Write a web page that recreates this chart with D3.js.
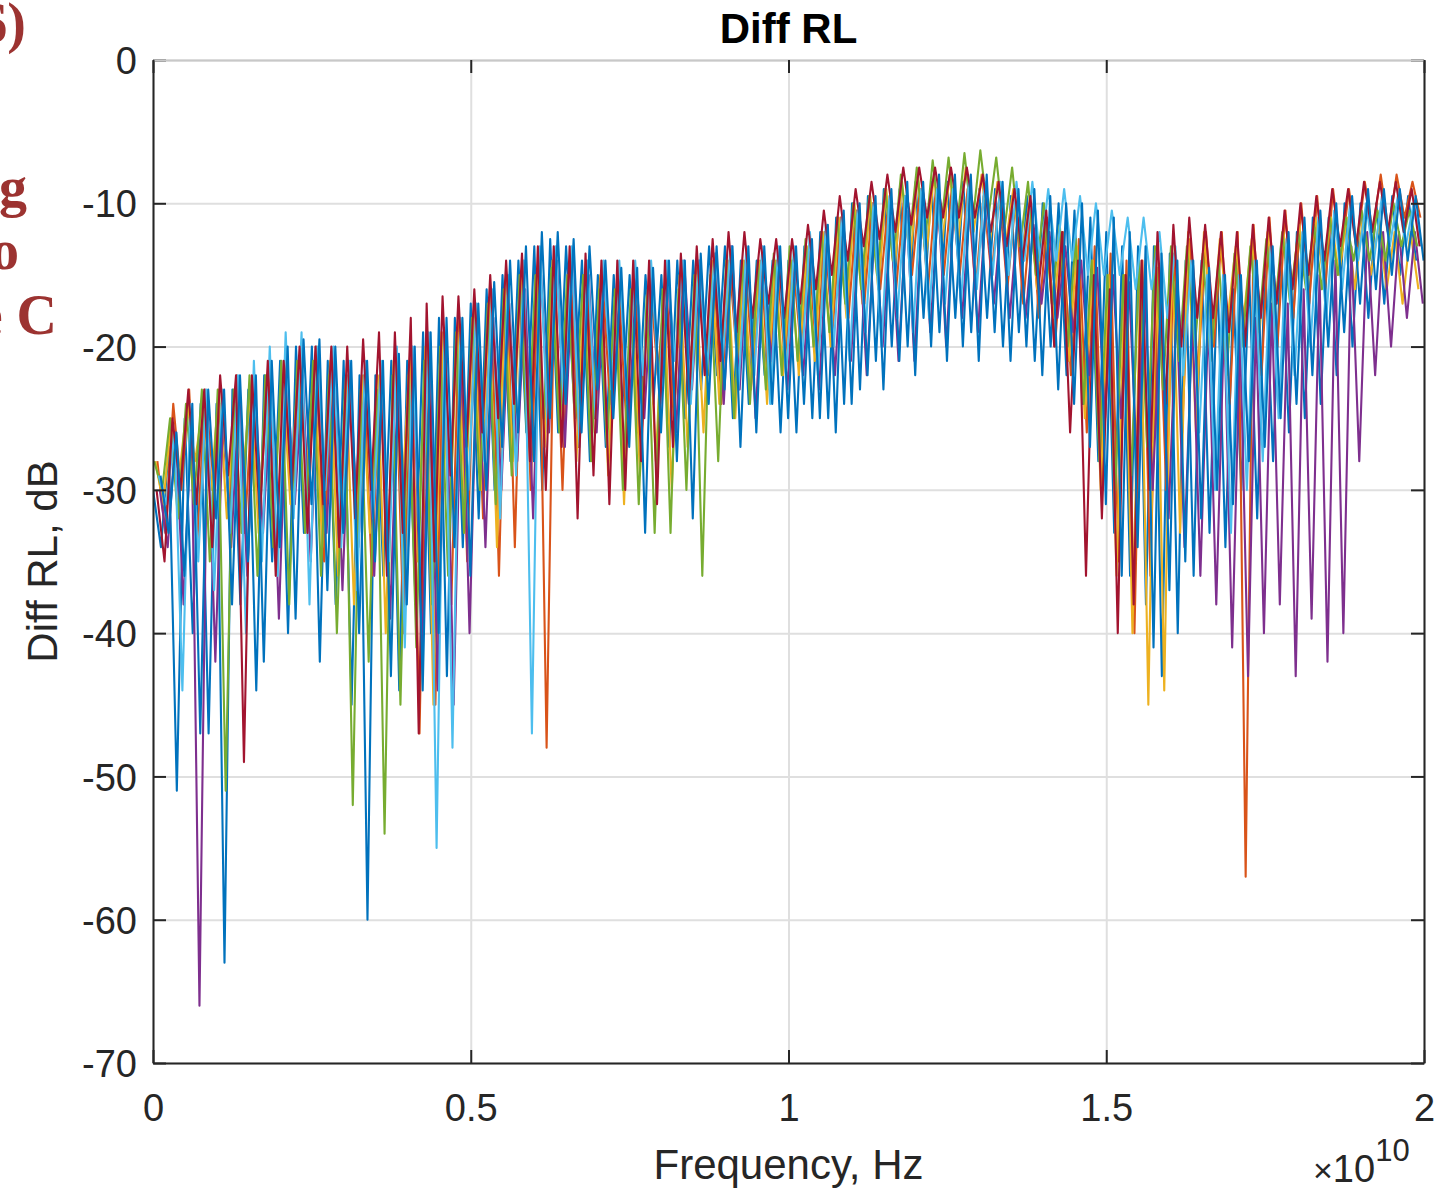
<!DOCTYPE html>
<html>
<head>
<meta charset="utf-8">
<script src="https://cdn.jsdelivr.net/npm/d3@7"></script>
<style>
  body { margin: 0; background: #fff; }
  svg { display: block; font-family: 'Liberation Sans', Arial, sans-serif; }
</style>
</head>
<body>
<div id="chart"></div>
<script>
// Diff RL sweep: 8 traces, each stored as one peak + one dip per ripple cycle (dB)
const cycleStep = 0.025e10;            // Hz between successive ripple peaks
const xTicks = [0, 0.5e10, 1e10, 1.5e10, 2e10];
const yTicks = [0, -10, -20, -30, -40, -50, -60, -70];
const traceColors = ['#0072BD', '#D95319', '#EDB120', '#7E2F8E', '#77AC30', '#4DBEEE', '#A2142F', '#0072BD'];
const tracePhase = [0, 0.55, 0.3, 0.85, 0.15, 0.7, 0.45, 0.95]; // fraction of half a cycle

const blueAPeaks = [
  -30,-27,-25,-24,-24,-23,-23,-22,-21,-20,
  -20,-21,-21,-22,-22,-21,-21,-19,-18,-18,
  -17,-16,-15,-14,-13,-12.5,-13,-14,-15,-15,
  -15,-15,-15,-14,-14,-13,-13,-14,-14,-14,
  -14,-13,-12,-11,-10,-9.5,-9,-9,-8.5,-8.5,
  -8.5,-8.5,-9,-9,-9.5,-9.5,-10,-10,-10.5,-11,
  -12,-13,-13,-13,-13.5,-14,-14,-15,-16,-15,
  -14,-13,-12,-11,-11,-10,-10,-10,-9.5,-9.5];
const blueADips = [
  -34,-51,-40,-47,-63,-38,-44,-35,-40,-33,
  -42,-38,-45,-60,-36,-44,-37,-40,-43,-34,
  -32,-30,-28,-26,-30,-26,-24,-28,-27,-25,
  -26,-24,-27,-25,-23,-22,-25,-24,-22,-26,
  -26,-25,-25,-24,-23,-21,-20,-20,-18,-19,
  -18,-19,-18,-20,-19,-21,-20,-22,-24,-28,
  -33,-36,-38,-43,-40,-36,-33,-34,-30,-32,
  -28,-26,-25,-24,-22,-20,-18,-17,-15,-14];

const orangePeaks = [
  -28,-24,-23,-23,-24,-22,-23,-22,-21,-21,
  -20,-21,-22,-22,-22,-21,-20,-19,-19,-18,
  -17,-16,-15,-14,-14,-14,-14,-14,-15,-15,
  -15,-15,-15,-15,-14,-14,-14,-14,-14,-14,
  -14,-13,-12,-11,-10.5,-10,-10,-9.5,-9,-9,
  -9,-9,-9.5,-9.5,-10,-10.5,-11,-12,-12.5,-13,
  -13.5,-14,-14,-14.5,-13.5,-12.5,-12,-12,-12,-11.5,
  -11,-10.5,-10,-9.5,-9,-9,-8.5,-8,-8,-8.5];
const orangeDips = [
  -33,-30,-34,-29,-31,-33,-30,-35,-32,-30,
  -35,-33,-30,-36,-34,-40,-47,-45,-38,-35,
  -32,-36,-34,-30,-48,-30,-27,-25,-24,-25,
  -24,-22,-25,-23,-22,-24,-21,-22,-23,-21,
  -20,-21,-19,-18,-17,-16,-16,-15,-16,-15,
  -15,-16,-15,-16,-17,-18,-20,-22,-26,-30,
  -35,-40,-36,-30,-26,-22,-20,-24,-57,-22,
  -20,-18,-17,-16,-14,-13,-12,-12,-11,-11];

const yellowPeaks = [
  -28,-25,-24,-24,-23,-24,-23,-22,-22,-21,
  -21,-21,-22,-22,-22,-21,-21,-20,-19,-19,
  -18,-17,-16,-15,-15,-14,-15,-15,-15,-16,
  -16,-16,-16,-15,-15,-14,-14,-14,-14,-14,
  -14,-13,-12,-11,-10,-9.5,-9,-8.5,-8,-8,
  -8,-7.5,-8,-8.5,-9,-10,-11,-12,-13,-14,
  -15,-15,-15,-14,-13,-12,-12,-12.5,-13,-12.5,
  -12,-12,-11.5,-11,-11,-11,-11,-11.5,-12,-12];
const yellowDips = [
  -31,-29,-28,-30,-32,-29,-33,-30,-31,-29,
  -34,-36,-38,-33,-40,-31,-35,-45,-33,-31,
  -30,-34,-28,-26,-27,-25,-28,-26,-29,-31,
  -29,-28,-30,-27,-26,-24,-25,-23,-24,-22,
  -22,-21,-20,-18,-17,-16,-15,-14,-14,-13,
  -13,-12,-13,-13,-14,-16,-18,-21,-25,-30,
  -36,-40,-45,-44,-33,-26,-20,-18,-18,-19,
  -17,-16,-16,-15,-15,-16,-15,-16,-17,-16];

const purplePeaks = [
  -30,-26,-25,-24,-24,-23,-23,-23,-22,-22,
  -21,-21,-22,-22,-22,-22,-22,-21,-20,-20,
  -19,-18,-17,-16,-15,-14,-14,-15,-15,-15,
  -15,-15,-15,-14,-14,-13.5,-13,-13.5,-14,-14,
  -14,-13.5,-13,-12.5,-12,-11.5,-11,-10.5,-10,-10,
  -10,-10,-10,-10.5,-11,-11.5,-12,-13,-14,-14.5,
  -15,-15.5,-16,-17,-17,-18,-18,-18,-19,-18,
  -17,-17,-16,-15,-14,-13,-12,-12,-12,-12];
const purpleDips = [
  -34,-38,-66,-42,-34,-36,-33,-39,-31,-35,
  -33,-37,-34,-36,-39,-38,-42,-44,-45,-40,
  -34,-30,-28,-32,-26,-27,-24,-26,-25,-26,
  -25,-24,-26,-23,-22,-24,-23,-25,-21,-23,
  -22,-23,-22,-21,-22,-20,-21,-21,-19,-20,
  -18,-19,-17,-18,-18,-17,-18,-19,-22,-25,
  -25,-28,-30,-32,-34,-36,-38,-41,-43,-40,
  -38,-43,-39,-42,-40,-28,-22,-20,-18,-17];

const greenPeaks = [
  -28,-25,-24,-23,-23,-23,-22,-22,-21,-21,
  -21,-22,-23,-23,-23,-22,-22,-21,-20,-19,
  -18,-17,-16,-15,-15,-14.5,-15,-15,-16,-16,
  -16,-16.5,-16,-16,-15,-15,-14,-14,-14,-13.5,
  -13,-12.5,-12,-11,-10,-9.5,-9,-8,-7.5,-7,
  -6.8,-6.5,-6.3,-6.8,-7.5,-8.5,-10,-11.5,-12.5,-14,
  -15,-15,-14,-13,-13,-13,-13.5,-14,-13.5,-13,
  -12.5,-12,-12,-11.5,-11,-11,-10.5,-10.5,-10,-10.5];
const greenDips = [
  -30,-32,-31,-35,-51,-33,-36,-34,-38,-33,
  -36,-40,-52,-42,-54,-45,-41,-38,-36,-33,
  -30,-31,-29,-27,-25,-26,-25,-28,-27,-30,
  -31,-33,-33,-30,-36,-28,-25,-24,-23,-22,
  -21,-20,-19,-17,-16,-15,-14,-13,-13,-12,
  -12,-11.5,-11,-12,-13,-15,-17,-20,-24,-28,
  -30,-29,-27,-23,-21,-20,-21,-22,-20,-19,
  -18,-17,-16,-16,-15,-14,-14,-14,-13,-13];

const lightBluePeaks = [
  -29,-26,-24,-23,-23,-22,-21,-20,-19,-19,
  -20,-20,-21,-21,-21,-20,-20,-19,-19,-18,
  -17,-16,-15,-14,-13,-13,-13,-14,-14,-14,
  -14,-14,-14,-14,-14,-13.5,-13,-13,-13,-13,
  -13,-12,-11.5,-11,-10.5,-10,-9.5,-9.5,-9,-9,
  -9,-8.5,-8.5,-8.5,-8.5,-8.5,-9,-9,-9.5,-10,
  -10.5,-11,-11,-12,-13,-14,-15,-15,-15,-14,
  -13,-12.5,-12,-11,-10.5,-10,-10,-9.5,-9.5,-10];
const lightBlueDips = [
  -31,-44,-35,-37,-33,-40,-35,-36,-32,-38,
  -30,-34,-37,-32,-35,-41,-36,-55,-48,-30,
  -28,-32,-29,-47,-26,-24,-27,-25,-23,-24,
  -22,-23,-21,-24,-22,-21,-23,-22,-24,-22,
  -21,-22,-20,-21,-19,-20,-18,-19,-18,-17,
  -17,-16,-15,-15,-14,-14,-14,-14,-15,-15,
  -15,-16,-16,-18,-22,-26,-30,-33,-30,-28,
  -25,-22,-20,-18,-16,-14,-14,-13,-13,-13];

const darkRedPeaks = [
  -30,-25,-23,-23,-22,-22,-22,-21,-21,-20,
  -20,-20,-20,-19.5,-19,-19,-18,-17,-16.5,-16.5,
  -16,-15,-14,-13.5,-13,-13,-13,-13.5,-14,-14,
  -14,-14,-14,-13.5,-13,-12.5,-12,-12,-12.5,-12.5,
  -12.5,-11.5,-10.5,-9.5,-9,-8.5,-8,-7.5,-7.5,-7.5,
  -7.5,-7.5,-8,-8.5,-9,-9.5,-10.5,-12,-14,-15,
  -16,-15,-14,-12,-11.5,-11,-11.5,-12,-12,-11.5,
  -11,-10.5,-10,-9.5,-9,-9,-8.5,-8.5,-8.5,-9];
const darkRedDips = [
  -35,-30,-31,-34,-29,-49,-32,-36,-30,-33,
  -31,-34,-32,-30,-36,-33,-47,-35,-29,-27,
  -26,-25,-24,-28,-30,-27,-32,-29,-31,-30,
  -28,-31,-27,-24,-22,-21,-19,-18,-17,-18,
  -17,-16,-15,-14,-13,-12.5,-12,-11.5,-11,-11,
  -11,-11,-12,-13,-14,-16,-20,-26,-36,-32,
  -40,-38,-30,-24,-20,-18,-18,-19,-20,-18,
  -17,-16,-15,-14,-13,-13,-12,-12,-12,-13];

const blueBPeaks = [
  -29,-26,-24,-23,-23,-22,-22,-21,-20,-19.5,
  -19.5,-20,-21,-21,-21,-20.5,-20,-19,-18,-18,
  -17,-15.5,-14,-13,-12,-12,-12.5,-13,-14,-14.5,
  -14.5,-14.5,-14,-14,-13.5,-13,-13,-13,-13,-13,
  -13,-12.5,-11.5,-10.5,-10,-9.5,-9,-8.5,-8.5,-8,
  -8,-8,-8,-8.5,-9,-9,-9.5,-10,-10,-10.5,
  -11,-12,-13,-13.5,-14,-14,-14.5,-15,-15,-14,
  -13,-12,-11,-10.5,-10,-9.5,-9,-9,-9,-9.5];
const blueBDips = [
  -33,-36,-47,-32,-38,-35,-42,-34,-39,-31,
  -37,-33,-40,-35,-43,-38,-44,-40,-34,-36,
  -30,-27,-26,-28,-25,-24,-26,-23,-25,-27,
  -33,-26,-28,-32,-24,-23,-27,-26,-24,-25,
  -24,-25,-26,-24,-22,-23,-21,-22,-20,-21,
  -20,-21,-19,-21,-20,-22,-23,-24,-27,-31,
  -36,-34,-41,-37,-35,-32,-30,-31,-28,-27,
  -25,-24,-22,-20,-19,-17,-16,-15,-14,-14];

const tracePeaks = [blueAPeaks, orangePeaks, yellowPeaks, purplePeaks, greenPeaks, lightBluePeaks, darkRedPeaks, blueBPeaks];
const traceDips = [blueADips, orangeDips, yellowDips, purpleDips, greenDips, lightBlueDips, darkRedDips, blueBDips];

const width = 1452, height = 1191;
const margin = { top: 60, right: 28, bottom: 128, left: 153 };
const axisColor = '#262626';

const svg = d3.select('#chart').append('svg')
  .attr('width', width)
  .attr('height', height)
  .attr('viewBox', `0 0 ${width} ${height}`);

const x = d3.scaleLinear().domain([0, 2e10]).range([margin.left, width - margin.right]);
const y = d3.scaleLinear().domain([-70, 0]).range([height - margin.bottom, margin.top]);

const plotW = x.range()[1] - x.range()[0];
const plotH = y.range()[0] - y.range()[1];

svg.append('defs').append('clipPath').attr('id', 'plotClip')
  .append('rect')
  .attr('x', margin.left).attr('y', margin.top)
  .attr('width', plotW).attr('height', plotH);

// Grid
svg.append('g')
  .attr('transform', `translate(0,${margin.top})`)
  .call(d3.axisBottom(x).tickValues(xTicks).tickSize(plotH).tickFormat(''))
  .call(g => g.select('.domain').remove())
  .call(g => g.selectAll('.tick line').attr('stroke', '#dfdfdf').attr('stroke-width', 2));
svg.append('g')
  .attr('transform', `translate(${margin.left},0)`)
  .call(d3.axisRight(y).tickValues(yTicks).tickSize(plotW).tickFormat(''))
  .call(g => g.select('.domain').remove())
  .call(g => g.selectAll('.tick line').attr('stroke', '#dfdfdf').attr('stroke-width', 2));

// Traces
const line = d3.line().x(d => x(d[0])).y(d => y(d[1]));
const traces = svg.append('g').attr('clip-path', 'url(#plotClip)');
tracePeaks.forEach((peaks, s) => {
  const shift = tracePhase[s] * cycleStep / 2;
  const pts = [];
  peaks.forEach((p, i) => {
    const f = i * cycleStep + shift;
    pts.push([f, p]);
    pts.push([f + cycleStep / 2, traceDips[s][i]]);
  });
  traces.append('path')
    .attr('d', line(pts))
    .attr('fill', 'none')
    .attr('stroke', traceColors[s])
    .attr('stroke-width', 2.1)
    .attr('stroke-linejoin', 'round');
});

// Axes (ticks inward, box on)
const fmtX = v => d3.format('~g')(v / 1e10);
const fmtY = v => String(v); // plain hyphen-minus, as in MATLAB
const styleAxis = g => {
  g.select('.domain').attr('stroke', axisColor).attr('stroke-width', 2);
  g.selectAll('.tick line').attr('stroke', axisColor).attr('stroke-width', 2);
  g.selectAll('.tick text').attr('fill', axisColor).style('font-size', '38px')
    .style('font-family', "'Liberation Sans', Arial, sans-serif");
};
svg.append('g')
  .attr('transform', `translate(0,${y(-70)})`)
  .call(d3.axisBottom(x).tickValues(xTicks).tickSize(-13).tickSizeOuter(0).tickPadding(31).tickFormat(fmtX))
  .call(styleAxis);
svg.append('g')
  .attr('transform', `translate(${x(0)},0)`)
  .call(d3.axisLeft(y).tickValues(yTicks).tickSize(-13).tickSizeOuter(0).tickPadding(16).tickFormat(fmtY))
  .call(styleAxis)
  .call(g => g.selectAll('.tick text').attr('dy', '0.36em'));
svg.append('g')
  .attr('transform', `translate(${x(2e10)},0)`)
  .call(d3.axisRight(y).tickValues(yTicks).tickSize(-13).tickSizeOuter(0).tickFormat(''))
  .call(styleAxis);
svg.append('g')
  .attr('transform', `translate(0,${y(0)})`)
  .call(d3.axisTop(x).tickValues(xTicks).tickSize(-13).tickSizeOuter(0).tickFormat(''))
  .call(styleAxis)
  .call(g => g.select('.domain').attr('stroke', '#c8c8c8'));

// Titles
svg.append('text')
  .attr('x', x(1e10)).attr('y', 43)
  .attr('text-anchor', 'middle')
  .attr('font-size', 42).attr('font-weight', 'bold')
  .attr('fill', '#000')
  .text('Diff RL');
svg.append('text')
  .attr('x', x(1e10)).attr('y', 1179)
  .attr('text-anchor', 'middle')
  .attr('font-size', 42).attr('fill', axisColor)
  .text('Frequency, Hz');
svg.append('text')
  .attr('transform', `translate(57,${y(-35)}) rotate(-90)`)
  .attr('text-anchor', 'middle')
  .attr('font-size', 42).attr('fill', axisColor)
  .text('Diff RL, dB');

const expo = svg.append('text')
  .attr('x', 1313).attr('y', 1182)
  .attr('fill', axisColor);
expo.append('tspan').attr('font-size', 34).text('\u00d7');
expo.append('tspan').attr('font-size', 38).text('10');
expo.append('tspan').attr('font-size', 31).attr('dy', -21).text('10');

// Page text clipped at the left edge of the figure
const side = svg.append('g')
  .attr('fill', '#9c3331')
  .attr('font-family', "'Liberation Serif', 'Times New Roman', serif")
  .attr('font-weight', 'bold')
  .attr('font-size', 56)
  .attr('text-anchor', 'end');
side.append('text').attr('x', 26).attr('y', 42).text('6)');
side.append('text').attr('x', 27).attr('y', 206).text('g');
side.append('text').attr('x', 19).attr('y', 269).text('o');
side.append('text').attr('x', 57).attr('y', 334).text('e C');
</script>
</body>
</html>
